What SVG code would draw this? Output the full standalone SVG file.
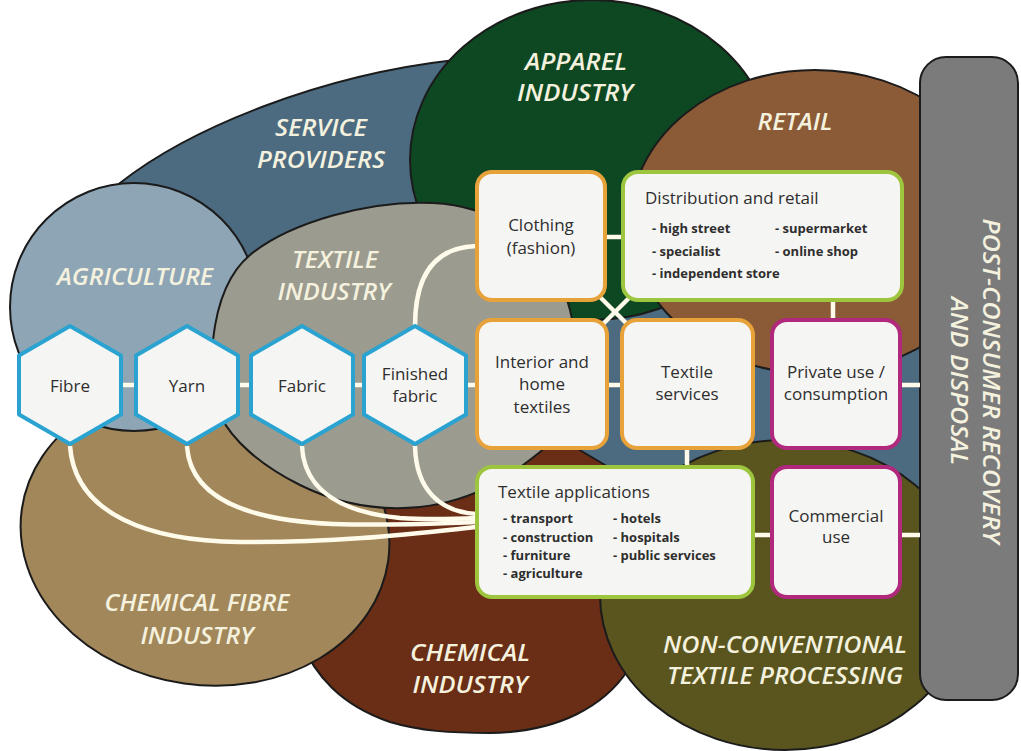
<svg xmlns="http://www.w3.org/2000/svg" width="1021" height="751" viewBox="0 0 1021 751">
<defs>
<style>
.sec{stroke:#1b1b1b;stroke-width:2}
.lbl{font-family:"Open Sans","Liberation Sans",sans-serif;font-style:italic;font-weight:600;font-size:23px;fill:#f4f1de;text-anchor:middle}
.box{fill:#f5f5f3;stroke-width:4}
.or{stroke:#e8a23a}.gr{stroke:#9dc53e}.mg{stroke:#b0297c}
.hex{fill:#f5f5f3;stroke:#2aa3d1;stroke-width:4;stroke-linejoin:round}
.t{font-family:"Open Sans","Liberation Sans",sans-serif;font-size:17px;fill:#2e2e2e;text-anchor:middle}
.tl{font-family:"Open Sans","Liberation Sans",sans-serif;font-size:17px;fill:#2e2e2e}
.b{font-family:"Open Sans","Liberation Sans",sans-serif;font-size:13px;font-weight:700;fill:#2e2e2e}
.cn{stroke:#fffbea;stroke-width:4.5;fill:none}
</style>
</defs>
<rect width="1021" height="751" fill="#ffffff"/>
<g id="sectors">
<g id="chemical-industry">
<path class="sec" fill="#6a2d15" d="M300,640 C315,675 340,705 390,722 C420,731 450,733 490,733 C560,732 605,705 628,670 L660,600 L640,500 L600,440 L540,420 L420,470 L300,520 Z"/>
</g>
<g id="chemical-fibre-industry">
<ellipse class="sec" fill="#a2875a" cx="205" cy="535" rx="185" ry="150" transform="rotate(8 205 535)"/>
</g>
<g id="service-providers">
<path class="sec" fill="#4c6b80" d="M90,215 L120,183 C190,128 320,75 455,60 L620,60 L800,120 L950,200 L950,520 L880,530 L700,500 L625,478 L605,465 L583,452 L560,438 L480,400 L420,380 L250,300 Z"/>
</g>
<g id="agriculture">
<circle class="sec" fill="#8ea5b5" cx="134" cy="307" r="124"/>
</g>
<g id="apparel-industry">
<ellipse class="sec" fill="#0e4823" cx="592" cy="160" rx="182" ry="160"/>
</g>
<g id="textile-industry">
<path class="sec" fill="#9b9b8f" d="M213,340 C218,295 232,270 250,255 C290,222 370,200 433,203 C500,206 555,250 570,310 C585,370 575,425 540,452 C515,472 480,500 420,507 C370,512 330,500 300,485 C260,465 232,440 220,415 C210,390 210,360 213,340 Z"/>
</g>
<g id="retail">
<ellipse class="sec" fill="#8b5a37" cx="815" cy="222" rx="185" ry="152"/>
</g>
<g id="non-conventional">
<ellipse class="sec" fill="#5a551f" cx="785" cy="595" rx="185" ry="155"/>
</g>
<g id="post-consumer">
<rect class="sec" fill="#7b7b7b" x="920" y="57" width="98" height="643" rx="26"/>
</g>
</g>
<g id="sector-labels">
<text class="lbl" x="321" y="136" textLength="92" lengthAdjust="spacingAndGlyphs">SERVICE</text>
<text class="lbl" x="321" y="168" textLength="128" lengthAdjust="spacingAndGlyphs">PROVIDERS</text>
<text class="lbl" x="135" y="285" textLength="156" lengthAdjust="spacingAndGlyphs">AGRICULTURE</text>
<text class="lbl" x="335" y="268" textLength="86" lengthAdjust="spacingAndGlyphs">TEXTILE</text>
<text class="lbl" x="334" y="300" textLength="113" lengthAdjust="spacingAndGlyphs">INDUSTRY</text>
<text class="lbl" x="576" y="70" textLength="102" lengthAdjust="spacingAndGlyphs">APPAREL</text>
<text class="lbl" x="575" y="101" textLength="116" lengthAdjust="spacingAndGlyphs">INDUSTRY</text>
<text class="lbl" x="795" y="130" textLength="75" lengthAdjust="spacingAndGlyphs">RETAIL</text>
<text class="lbl" x="197" y="611" textLength="185" lengthAdjust="spacingAndGlyphs">CHEMICAL FIBRE</text>
<text class="lbl" x="197" y="644" textLength="113" lengthAdjust="spacingAndGlyphs">INDUSTRY</text>
<text class="lbl" x="470" y="661" textLength="120" lengthAdjust="spacingAndGlyphs">CHEMICAL</text>
<text class="lbl" x="470" y="693" textLength="115" lengthAdjust="spacingAndGlyphs">INDUSTRY</text>
<text class="lbl" x="785" y="653" textLength="244" lengthAdjust="spacingAndGlyphs">NON-CONVENTIONAL</text>
<text class="lbl" x="785" y="684" textLength="236" lengthAdjust="spacingAndGlyphs">TEXTILE PROCESSING</text>
<text class="lbl" transform="translate(992 381) rotate(90)" x="0" y="9" font-size="25" fill="#e6e6e6" textLength="325" lengthAdjust="spacingAndGlyphs">POST-CONSUMER RECOVERY</text>
<text class="lbl" transform="translate(960 381) rotate(90)" x="0" y="9" font-size="25" fill="#e6e6e6" textLength="168" lengthAdjust="spacingAndGlyphs">AND DISPOSAL</text>
</g>
<g id="connectors">
<path class="cn" d="M70,446 C75,515 150,541 240,542 C340,543 420,533 477,527"/>
<path class="cn" d="M187,446 C190,495 240,520 333,524 C400,526 440,523 477,522"/>
<path class="cn" d="M302,446 C304,490 340,512 400,518 C430,520 455,519 477,518"/>
<path class="cn" d="M415,446 C416,490 440,512 477,514"/>
<path class="cn" d="M415,326 C415,275 435,247 477,246"/>
<line class="cn" x1="121" y1="385" x2="136" y2="385"/>
<line class="cn" x1="238" y1="385" x2="251" y2="385"/>
<line class="cn" x1="353" y1="385" x2="364" y2="385"/>
<line class="cn" x1="466" y1="385" x2="477" y2="385"/>
<line class="cn" x1="605" y1="237" x2="623" y2="237"/>
<line class="cn" x1="596" y1="293" x2="634" y2="331"/>
<line class="cn" x1="634" y1="293" x2="596" y2="331"/>
<line class="cn" x1="607" y1="385" x2="622" y2="385"/>
<line class="cn" x1="687" y1="448" x2="687" y2="467"/>
<line class="cn" x1="833" y1="300" x2="833" y2="320"/>
<line class="cn" x1="900" y1="385" x2="920" y2="385"/>
<line class="cn" x1="753" y1="535" x2="772" y2="535"/>
<line class="cn" x1="900" y1="535" x2="920" y2="535"/>
</g>
<g id="fibre">
<polygon class="hex" points="70,326 121,355.5 121,414.5 70,444 19,414.5 19,355.5"/>
<text class="t" x="70" y="392">Fibre</text>
</g>
<g id="yarn">
<polygon class="hex" points="187,326 238,355.5 238,414.5 187,444 136,414.5 136,355.5"/>
<text class="t" x="187" y="392">Yarn</text>
</g>
<g id="fabric">
<polygon class="hex" points="302,326 353,355.5 353,414.5 302,444 251,414.5 251,355.5"/>
<text class="t" x="302" y="392">Fabric</text>
</g>
<g id="finished-fabric">
<polygon class="hex" points="415,326 466,355.5 466,414.5 415,444 364,414.5 364,355.5"/>
<text class="t" x="415" y="380">Finished</text>
<text class="t" x="415" y="402">fabric</text>
</g>
<g id="clothing">
<rect class="box or" x="477" y="172" width="128" height="128" rx="15"/>
<text class="t" x="541" y="231">Clothing</text>
<text class="t" x="541" y="254">(fashion)</text>
</g>
<g id="distribution">
<rect class="box gr" x="623" y="172" width="279" height="128" rx="15"/>
<text class="tl" x="645" y="204">Distribution and retail</text>
<text class="b" x="652" y="233">- high street</text>
<text class="b" x="775" y="233">- supermarket</text>
<text class="b" x="652" y="256">- specialist</text>
<text class="b" x="775" y="256">- online shop</text>
<text class="b" x="652" y="278">- independent store</text>
</g>
<g id="interior">
<rect class="box or" x="477" y="320" width="130" height="128" rx="15"/>
<text class="t" x="542" y="368">Interior and</text>
<text class="t" x="542" y="390">home</text>
<text class="t" x="542" y="413">textiles</text>
</g>
<g id="textile-services">
<rect class="box or" x="622" y="320" width="131" height="128" rx="15"/>
<text class="t" x="687" y="378">Textile</text>
<text class="t" x="687" y="400">services</text>
</g>
<g id="private-use">
<rect class="box mg" x="772" y="320" width="128" height="128" rx="15"/>
<text class="t" x="836" y="378">Private use /</text>
<text class="t" x="836" y="400">consumption</text>
</g>
<g id="textile-applications">
<rect class="box gr" x="477" y="467" width="276" height="130" rx="15"/>
<text class="tl" x="498" y="498">Textile applications</text>
<text class="b" x="503" y="523">- transport</text>
<text class="b" x="503" y="542">- construction</text>
<text class="b" x="503" y="560">- furniture</text>
<text class="b" x="503" y="578">- agriculture</text>
<text class="b" x="613" y="523">- hotels</text>
<text class="b" x="613" y="542">- hospitals</text>
<text class="b" x="613" y="560">- public services</text>
</g>
<g id="commercial-use">
<rect class="box mg" x="772" y="467" width="128" height="130" rx="15"/>
<text class="t" x="836" y="522">Commercial</text>
<text class="t" x="836" y="543">use</text>
</g>
</svg>
